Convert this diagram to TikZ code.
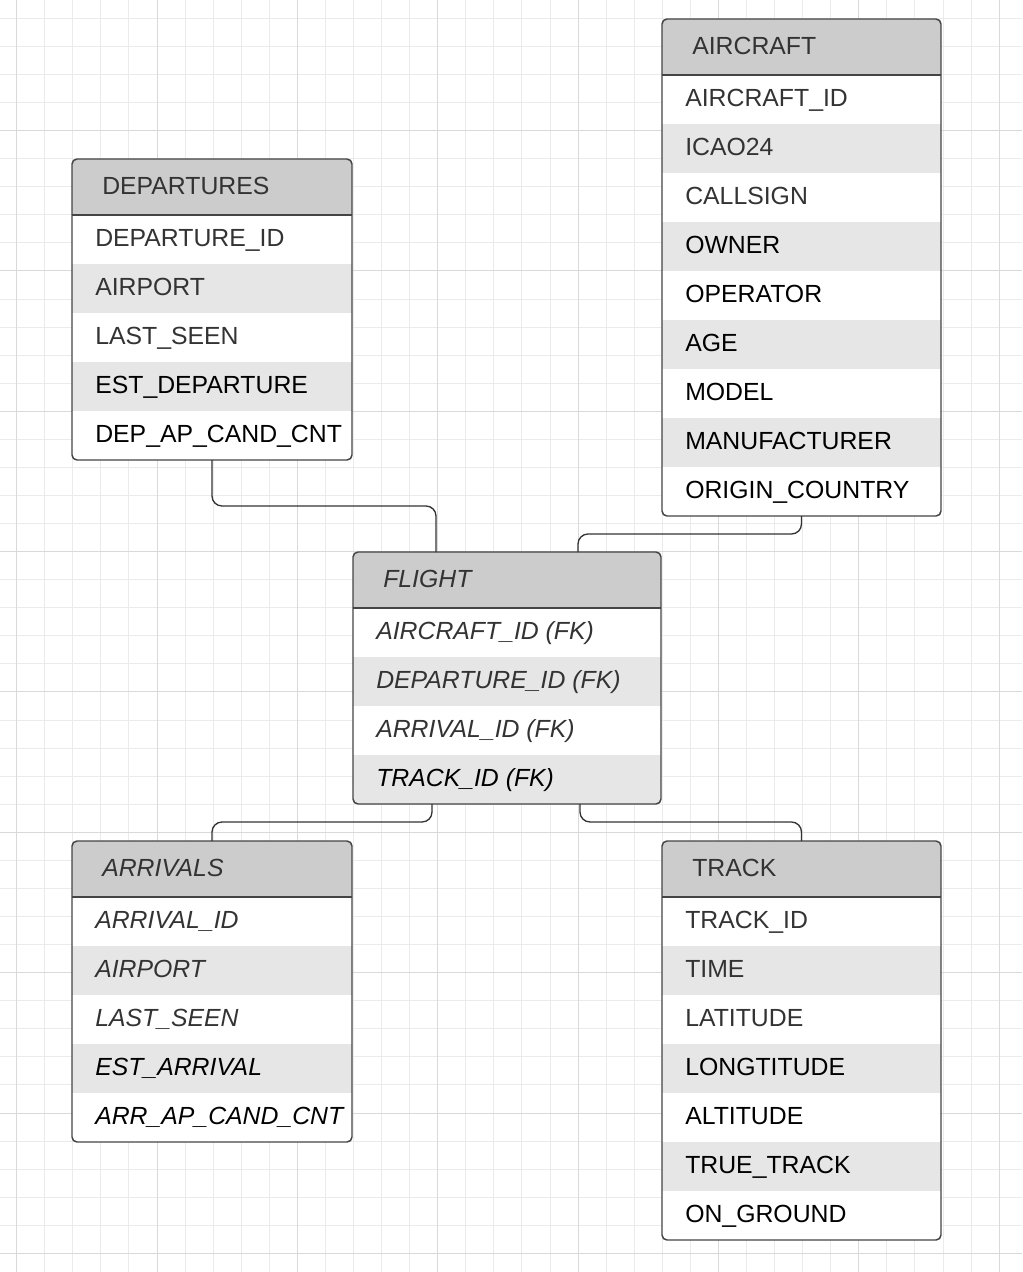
\documentclass[tikz,border=0pt]{standalone}
\usepackage{fontspec}
\setmainfont{Liberation Sans}
\usepackage{tikz}
\definecolor{gridminor}{HTML}{EBEBEB}
\definecolor{gridmajor}{HTML}{D9D9D9}
\definecolor{hdrfill}{HTML}{CCCCCC}
\definecolor{rowfill}{HTML}{E6E6E6}
\definecolor{framecol}{HTML}{444444}
\definecolor{txtdark}{HTML}{333333}
\tikzset{
  ertext/.style={font=\fontsize{18.6}{22}\selectfont, inner sep=0, anchor=base west},
  link/.style={draw=txtdark, line width=1pt, rounded corners=7.5pt}
}
% [font](name)(left,top)(width:rows){title}{rows}
\def\ertable[#1](#2)(#3,#4)(#5:#6)#7#8{%
  \fill[white, rounded corners=3.75pt] (#3,#4) rectangle ++(#5,56+49*#6);
  \begin{scope}
    \clip[rounded corners=3.75pt] (#3,#4) rectangle ++(#5,56+49*#6);
    \fill[hdrfill] (#3,#4) rectangle ++(#5,56);
    \foreach \r [count=\i from 0] in {#8} {
      \ifodd\i \fill[rowfill] (#3,#4+56+49*\i) rectangle ++(#5,49); \fi
      \ifnum\i<3 \def\tc{txtdark}\else\def\tc{black}\fi
      \node[ertext, text=\tc] (#2-\i) at (#3+23,#4+87.8+49*\i) {#1\r};
    }
  \end{scope}
  \draw[framecol, line width=1.1pt] (#3,#4+56) -- ++(#5,0);
  \node[draw=framecol, line width=1.1pt, rounded corners=3.75pt, inner sep=0, outer sep=0,
        anchor=north west, minimum width=#5*0.75pt, minimum height=(56+49*#6)*0.75pt] (#2) at (#3,#4) {};
  \node[ertext, text=txtdark] (#2-h) at (#3+30,#4+35.5) {#1#7};
}

\begin{document}
\begin{tikzpicture}[x=0.75pt, y=-0.75pt]
			%%%%% START %%%%%
			
			\useasboundingbox (0,0) rectangle (1022,1272);
			\fill[white] (0,0) rectangle (1022,1272);
			
			% grid
			\foreach \k in {0,...,35} \draw[gridminor, line width=0.75pt] (16.7+28.07*\k,0) -- (16.7+28.07*\k,1272);
			\foreach \k in {0,...,44} \draw[gridminor, line width=0.75pt] (0,18.3+28.07*\k) -- (1022,18.3+28.07*\k);
			\foreach \k in {0,5,...,35} \draw[gridmajor, line width=0.75pt] (16.7+28.07*\k,0) -- (16.7+28.07*\k,1272);
			\foreach \k in {4,9,...,44} \draw[gridmajor, line width=0.75pt] (0,18.3+28.07*\k) -- (1022,18.3+28.07*\k);
			
			% tables
			\ertable[](dep)(72,159)(280:5){DEPARTURES}{DEPARTURE\_ID, AIRPORT, LAST\_SEEN, EST\_DEPARTURE, DEP\_AP\_CAND\_CNT}
			\ertable[](air)(662,19)(279:9){AIRCRAFT}{AIRCRAFT\_ID, ICAO24, CALLSIGN, OWNER, OPERATOR, AGE, MODEL, MANUFACTURER, ORIGIN\_COUNTRY}
			\ertable[\itshape](flt)(353,552)(308:4){FLIGHT}{AIRCRAFT\_ID (FK), DEPARTURE\_ID (FK), ARRIVAL\_ID (FK), TRACK\_ID (FK)}
			\ertable[\itshape](arr)(72,841)(280:5){ARRIVALS}{ARRIVAL\_ID, AIRPORT, LAST\_SEEN, EST\_ARRIVAL, ARR\_AP\_CAND\_CNT}
			\ertable[](trk)(662,841)(279:7){TRACK}{TRACK\_ID, TIME, LATITUDE, LONGTITUDE, ALTITUDE, TRUE\_TRACK, ON\_GROUND}
			
			% links
			\draw[link] (dep.south) -- ++(0,46) -| ([xshift=-53.25pt]flt.north);
			\draw[link] (air.south) -- ++(0,18) -| ([xshift=53.25pt]flt.north);
			\draw[link] ([xshift=-56.25pt]flt.south) -- ++(0,18) -| (arr.north);
			\draw[link] ([xshift=54.75pt]flt.south) -- ++(0,18) -| (trk.north);
			
			%%%%% END %%%%%
		\end{tikzpicture}
\end{document}
